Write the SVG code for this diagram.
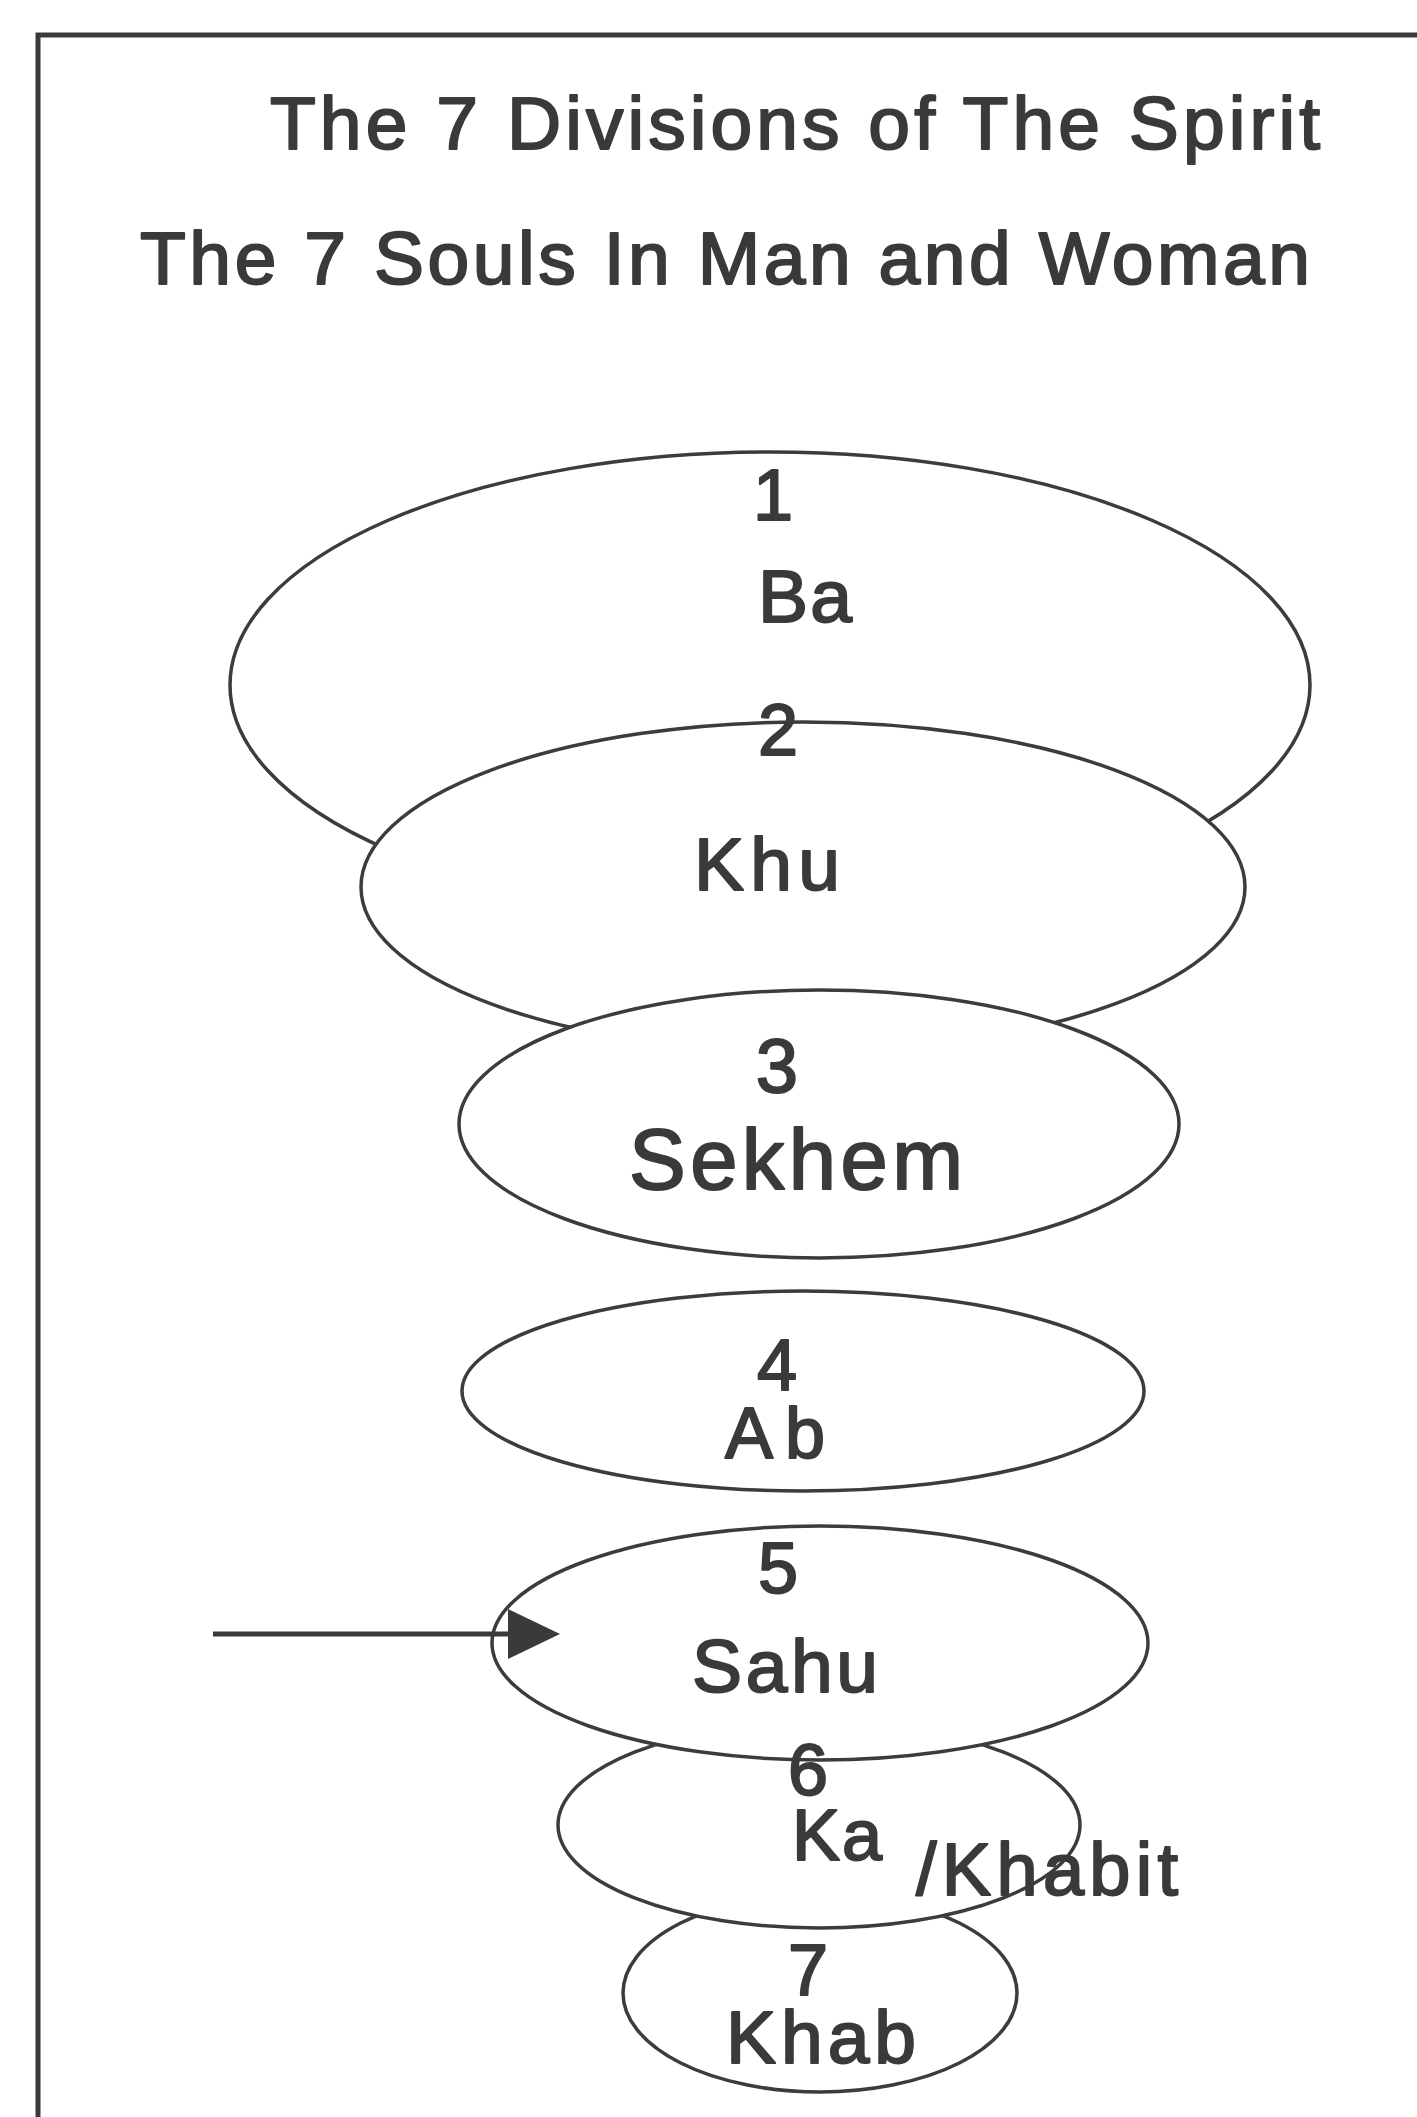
<svg xmlns="http://www.w3.org/2000/svg" width="1417" height="2117" viewBox="0 0 1417 2117">
<style>
.bg{fill:#ffffff}
.frame{fill:none;stroke:#3a3a3a;stroke-width:5}
.ell{fill:#ffffff;stroke:#3c3c3c;stroke-width:3.5}
text{font-family:"Liberation Sans",Arial,sans-serif;fill:#3a3a3a;stroke:#3a3a3a;stroke-width:2;stroke-linejoin:round}
.title{font-size:75px}
.num{font-size:72px;text-anchor:middle}
.lbl{font-size:75px;text-anchor:middle}
.conn{fill:none;stroke:#3a3a3a;stroke-width:5}
</style>
<defs>
<marker id="arrow" markerUnits="userSpaceOnUse" markerWidth="54" markerHeight="52" refX="0" refY="26" orient="auto">
<path d="M0,1 L52,26 L0,51 Z" fill="#3a3a3a"/>
</marker>
</defs>
<rect class="bg" x="0" y="0" width="1417" height="2117"/>
<path class="frame" d="M38,2117 V35 H1417"/>
<g id="titles">
<text class="title" x="270" y="149" textLength="1050" lengthAdjust="spacing">The 7 Divisions of The Spirit</text>
<text class="title" x="140" y="284" textLength="1170" lengthAdjust="spacing">The 7 Souls In Man and Woman</text>
</g>
<g id="soul1">
<ellipse class="ell" cx="770" cy="685" rx="540" ry="233"/>
</g>
<g id="soul2">
<ellipse class="ell" cx="803" cy="887" rx="442" ry="165"/>
</g>
<g id="soul3">
<ellipse class="ell" cx="819" cy="1124" rx="360" ry="134"/>
</g>
<g id="soul4">
<ellipse class="ell" cx="803" cy="1391" rx="341" ry="100"/>
</g>
<g id="soul7">
<ellipse class="ell" cx="820" cy="1993" rx="197" ry="99"/>
</g>
<g id="soul6">
<ellipse class="ell" cx="819" cy="1825" rx="261" ry="103"/>
</g>
<g id="soul5">
<ellipse class="ell" cx="820" cy="1643" rx="328" ry="117"/>
</g>
<g id="labels">
<text class="num" x="773" y="520">1</text>
<text class="lbl" x="805" y="622" textLength="94" lengthAdjust="spacing">Ba</text>
<text class="num" x="778" y="755">2</text>
<text class="lbl" x="767" y="890" textLength="146" lengthAdjust="spacing">Khu</text>
<text class="num" x="777" y="1092" style="font-size:76px">3</text>
<text class="lbl" x="796" y="1189" style="font-size:85px" textLength="334" lengthAdjust="spacing">Sekhem</text>
<text class="num" x="777" y="1390">4</text>
<text class="lbl" x="775" y="1458" style="font-size:72px" textLength="100" lengthAdjust="spacing">Ab</text>
<text class="num" x="778" y="1593">5</text>
<text class="lbl" x="785" y="1692" textLength="186" lengthAdjust="spacing">Sahu</text>
<text class="num" x="808" y="1795">6</text>
<text x="792" y="1860" style="font-size:72px" textLength="90" lengthAdjust="spacing">Ka</text>
<text x="916" y="1895" style="font-size:74px" textLength="262" lengthAdjust="spacing">/Khabit</text>
<text class="num" x="808" y="1995">7</text>
<text class="lbl" x="821" y="2063" textLength="190" lengthAdjust="spacing">Khab</text>
</g>
<g id="connectors">
<line class="conn" x1="213" y1="1634" x2="508" y2="1634" marker-end="url(#arrow)"/>
</g>
</svg>
